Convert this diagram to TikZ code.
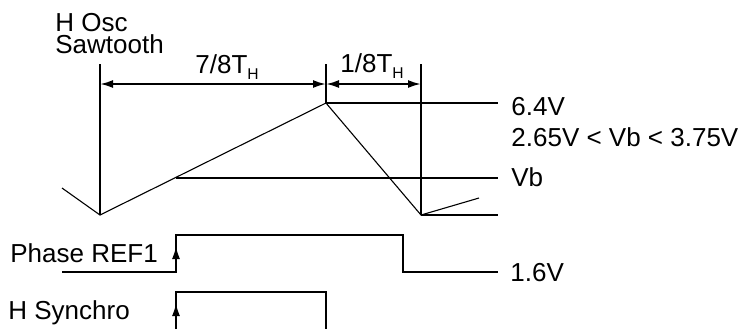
\documentclass[tikz,border=0pt]{standalone}
\usepackage{fontspec}
\setmainfont{Liberation Sans}
\usepackage{tikz}
\usetikzlibrary{arrows.meta,calc}

\newcommand{\lowsub}[1]{\raisebox{-3pt}{\fontsize{7.8}{9}\selectfont #1}}

\tikzset{
	sig/.style={line width=1pt},
	saw/.style={line width=0.55pt},
	tip/.style={-{Latex[length=6.5pt,width=4pt]}},
	dimline/.style={line width=1pt,{Latex[length=6.5pt,width=4pt]}-{Latex[length=6.5pt,width=4pt]}},
	lbl/.style={anchor=base west,inner sep=0pt,font=\fontsize{13}{15}\selectfont}
}

\begin{document}
\begin{tikzpicture}[x=0.5pt,y=-0.5pt]
		\useasboundingbox (0,0) rectangle (744,329);
		% labels
		\node[lbl,align=left,font=\fontsize{13}{10.75}\selectfont] (osc) at (55,53) {H Osc\\Sawtooth};
		\node[lbl] (seven) at (195,73) {7/8T\lowsub{H}};
		\node[lbl] (one) at (340,72) {1/8T\lowsub{H}};
		\node[lbl] (top) at (511,115) {6.4V};
		\node[lbl] (range) at (511,146.5) {2.65V < Vb < 3.75V};
		\node[lbl] (vb) at (511,186) {Vb};
		\node[lbl] (low) at (510,281) {1.6V};
		\node[lbl] (ref) at (10,262) {Phase REF1};
		\node[lbl] (sync) at (8,319) {H Synchro};
		% sawtooth corners
		\coordinate (start) at (62,188);
		\coordinate (valley) at (100,215);
		\coordinate (peak) at (326,103);
		\coordinate (bottom) at (421,215);
		\coordinate (rise) at (479,198);
		% timing marks
		\draw[sig] (100,64) -- (valley);
		\draw[sig] (326,64) -- (peak);
		\draw[sig] (421,64) -- (bottom);
		\draw[dimline] (100,84) -- (326,84);
		\draw[dimline] (326,84) -- (421,84);
		% levels
		\draw[sig] (peak) -- (498,103);
		\draw[sig] (176,178) -- (498,178);
		\draw[sig] (bottom) -- (498,215);
		% sawtooth
		\draw[saw] (start) -- (valley) -- (peak) -- (bottom) -- (rise);
		% Phase REF1
		\draw[sig] (62,272) -- (176,272) -- (176,235) -- (403,235) -- (403,272) -- (498,272);
		\draw[sig,tip] (176,262) -- (176,246);
		% H Synchro
		\draw[sig] (176,329) -- (176,292) -- (326,292) -- (326,329);
		\draw[sig,tip] (176,320) -- (176,303);
	\end{tikzpicture}
\end{document}
